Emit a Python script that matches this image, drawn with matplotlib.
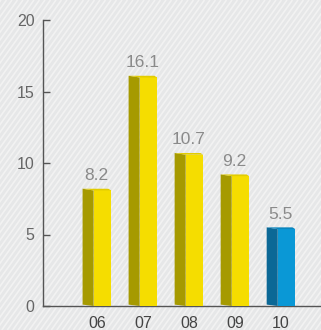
import matplotlib
matplotlib.use("Agg")
import matplotlib.pyplot as plt
import numpy as np

# data
years = ["06", "07", "08", "09", "10"]
values = [8.2, 16.1, 10.7, 9.2, 5.5]
highlight = [False, False, False, False, True]
yticks = [0, 5, 10, 15, 20]

# styles
FRONT = {False: "#f5dd00", True: "#0a98d6"}
SIDE = {False: "#a69a00", True: "#0b6896"}
CAP = {False: "#e2cc00", True: "#0a85bd"}

plt.rcParams["font.family"] = ["Liberation Sans", "DejaVu Sans"]

W, H = 321, 330
fig = plt.figure(figsize=(W / 100, H / 100), dpi=100)

# striped background
bg = fig.add_axes([0, 0, 1, 1], zorder=0)
bg.set_xlim(0, W)
bg.set_ylim(0, H)
bg.axis("off")
bg.add_patch(plt.Rectangle((0, 0), W, H, color="#e6e7e8", zorder=0))
slope = 1.4
for x0 in np.arange(-H / slope - 10, W + 10, 5.5):
    bg.plot([x0, x0 + H / slope], [0, H], color="#f2f2f2", lw=1.2, zorder=1,
            solid_capstyle="butt")

ax = fig.add_axes([43 / W, 24 / H, (W - 43) / W, 286 / H], zorder=1)
ax.patch.set_alpha(0)

x = np.arange(len(years))
left, mid, right, lift = 0.31, 0.07, 0.31, 0.12
for xi, v, hl in zip(x, values, highlight):
    xl, xm, xr = xi - left, xi - mid, xi + right
    ax.fill([xm, xr, xr, xm], [0, 0, v - lift, v - lift], color=FRONT[hl],
            lw=0, zorder=3)
    ax.fill([xl, xm, xm, xl], [lift * 0.8, 0, v - lift, v], color=SIDE[hl],
            lw=0, zorder=3)
    ax.fill([xl, xr - 0.06, xr, xm], [v, v, v - lift, v - lift],
            color=CAP[hl], lw=0, zorder=3)
    ax.annotate(f"{v}", (xi - 0.01, v), xytext=(0, 4),
                textcoords="offset points", ha="center", va="bottom",
                fontsize=12.5, color="#8a8a8a")

ax.set_xlim(-1.17, 4.87)
ax.set_ylim(0, 20)
ax.set_yticks(yticks)
ax.set_xticks(x)
ax.set_xticklabels(years)
ax.tick_params(axis="y", direction="in", length=5, width=1, color="#555555",
               labelcolor="#666666", labelsize=11.5, pad=6)
ax.tick_params(axis="x", length=0, labelcolor="#444444", labelsize=11.5,
               pad=7)
for side in ["top", "right"]:
    ax.spines[side].set_visible(False)
for side in ["left", "bottom"]:
    ax.spines[side].set_color("#555555")
    ax.spines[side].set_linewidth(1)

fig.savefig("out.png", dpi=100)
